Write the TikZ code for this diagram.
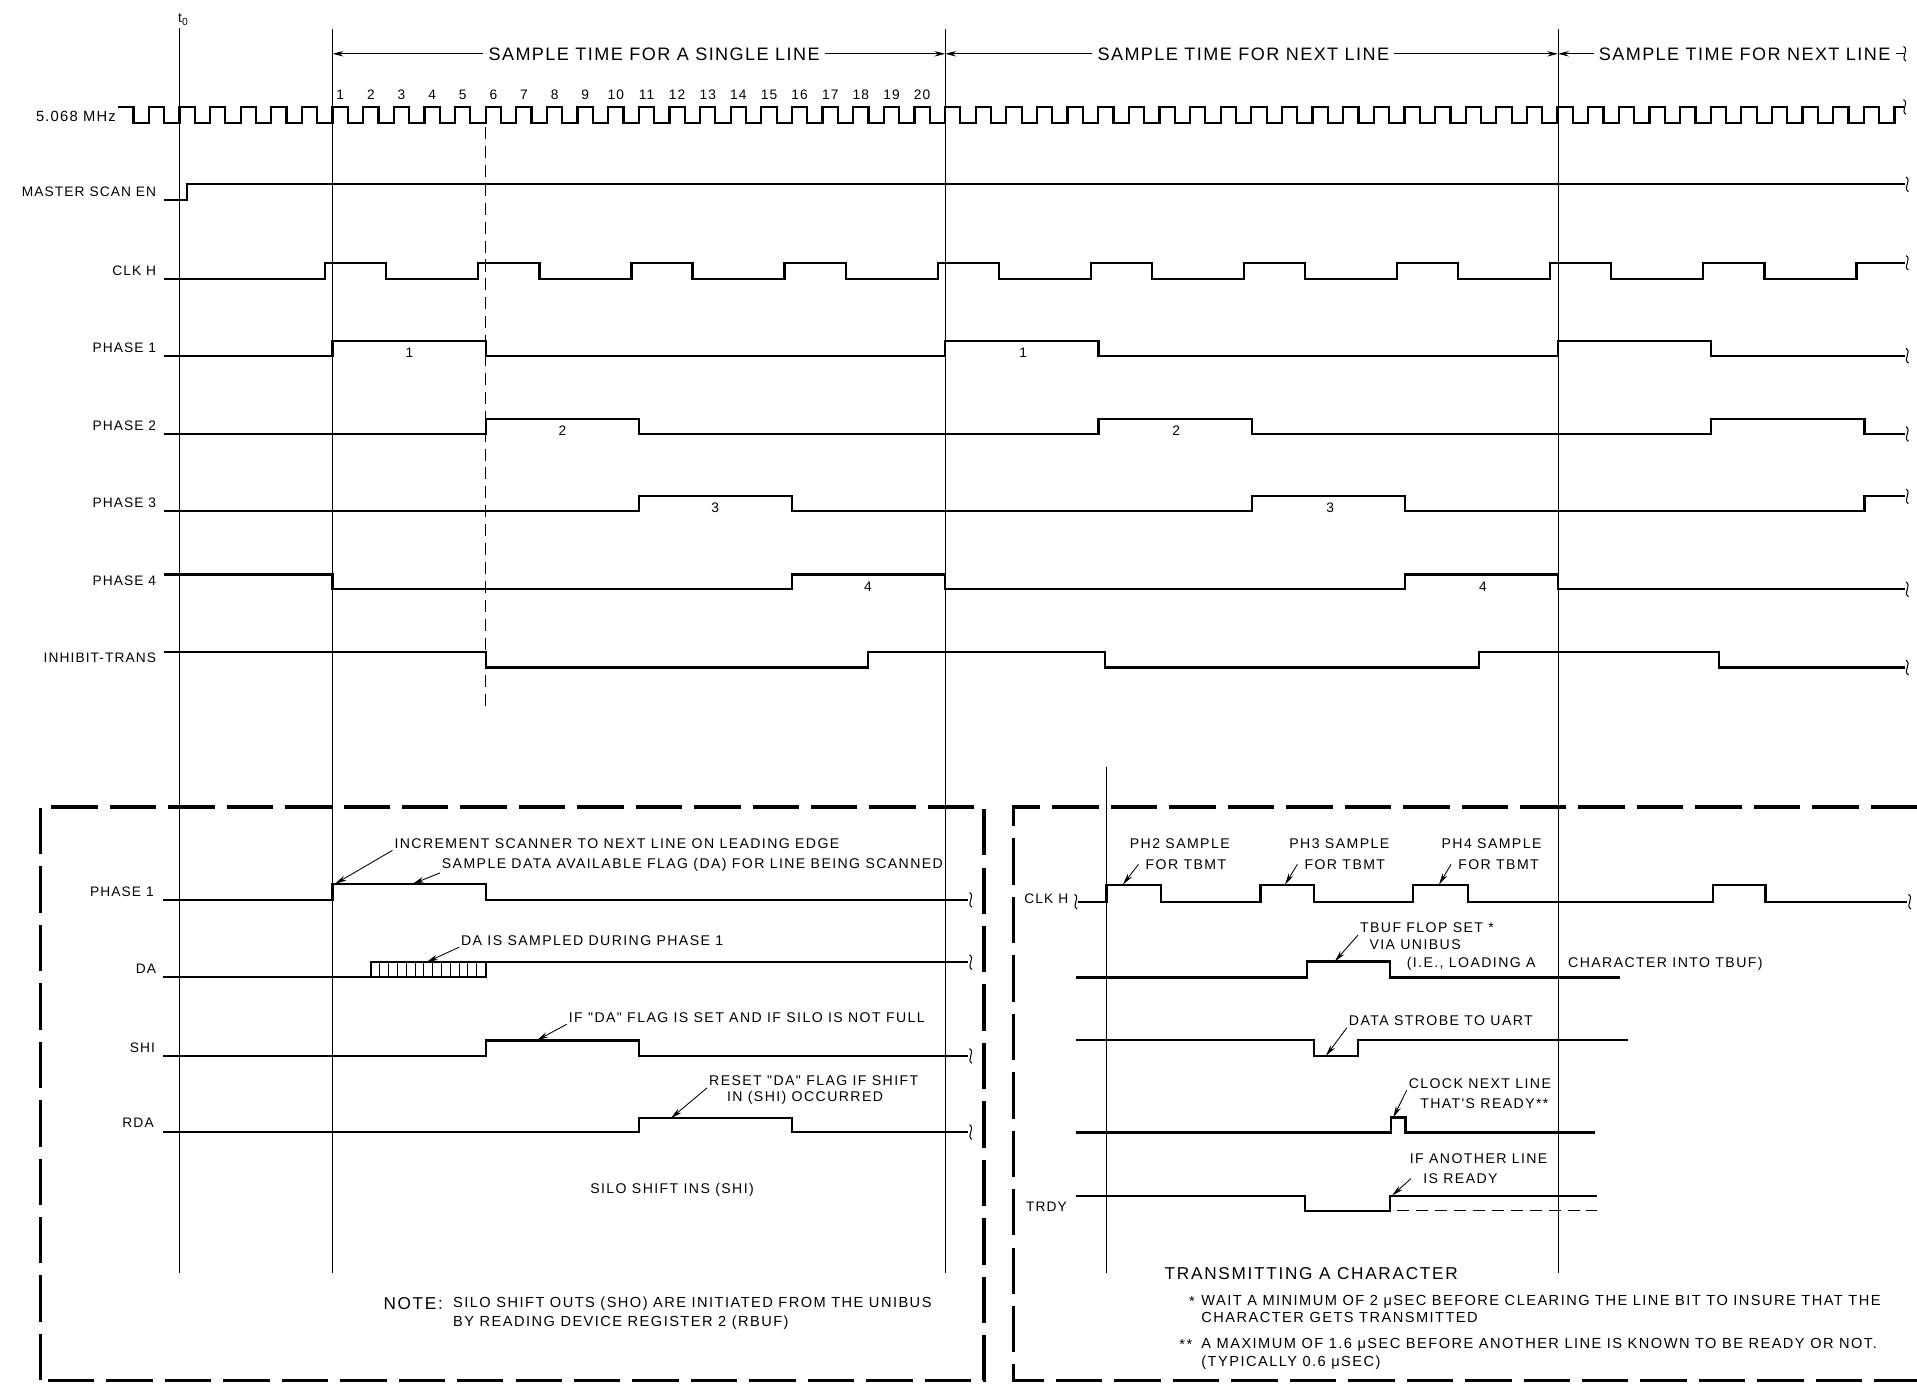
\documentclass[tikz,border=0pt]{standalone}
\usepackage{fontspec}
\setmainfont{Liberation Sans}[LetterSpace=8]
\newfontfamily\wideFont{Liberation Sans}[LetterSpace=10]
\usepackage{tikz}
\usetikzlibrary{arrows.meta}
\tikzstyle{signal}=[line width=1.3pt, line join=miter]
\tikzstyle{refLine}=[line width=0.5pt]
\tikzstyle{boxLine}=[line width=2pt, dash pattern=on 27pt off 7pt]
\tikzstyle{dashLine}=[line width=0.6pt, dash pattern=on 7pt off 4pt]
\tikzstyle{labelText}=[inner sep=0pt, font=\fontsize{8}{9.6}\selectfont]
\tikzstyle{titleText}=[inner sep=3pt, fill=white, font=\fontsize{10.5}{12}\selectfont]
\tikzstyle{noteText}=[inner sep=1pt, anchor=west, font=\wideFont\fontsize{8.2}{9.6}\selectfont]
\tikzstyle{footText}=[inner sep=1pt, anchor=west, font=\wideFont\fontsize{8.5}{10}\selectfont]
\tikzstyle{leader}=[-{Stealth[length=2.4mm,width=1.1mm]}, line width=0.5pt]
\tikzstyle{spanArrow}=[{Stealth[length=2.2mm,width=1.1mm]}-{Stealth[length=2.2mm,width=1.1mm]}, line width=0.5pt]
\tikzset{lineBreak/.pic={\draw[line width=0.6pt] (-1,-6) .. controls (4,-3) and (-4,3) .. (1,6);}}

\begin{document}
\begin{tikzpicture}[x=0.25mm, y=-0.25mm]
    \useasboundingbox (0,0) rectangle (1568,1136);

    % Time references
    \node[labelText, anchor=south] (t0) at (150, 21) {t\textsubscript{0}};
    \draw[refLine] (147, 23) -- (147, 1041);
    \draw[refLine] (272, 24) -- (272, 1041);
    \draw[refLine] (773.2, 24) -- (773.2, 1041);
    \draw[refLine] (1274.4, 24) -- (1274.4, 1041);
    \draw[refLine] (905, 627) -- (905, 1041);
    \draw[dashLine] (397.3, 104) -- (397.3, 578);

    % Sample time spans
    \coordinate (s0) at (272, 44);
    \coordinate (s1) at (773.2, 44);
    \coordinate (s2) at (1274.4, 44);
    \coordinate (s3) at (1557, 44);
    \draw[spanArrow] (s0) -- (s1);
    \draw[spanArrow] (s1) -- (s2);
    \draw[line width=0.5pt, {Stealth[length=2.2mm,width=1.1mm]}-] (s2) -- (s3);
    \pic at (1558, 44) {lineBreak};
    \node[titleText] (span0) at (535, 44) {SAMPLE TIME FOR A SINGLE LINE};
    \node[titleText] (span1) at (1017, 44) {SAMPLE TIME FOR NEXT LINE};
    \node[titleText] (span2) at (1427, 44) {SAMPLE TIME FOR NEXT LINE};

    % Clock count
    \foreach \k in {1,...,20}
        \node[labelText, anchor=base] (n\k) at ({278.3+25.05*(\k-1)}, 81.5) {\k};

    % 5.068 MHz
    \node[labelText, anchor=base east, font=\fontsize{8.6}{10}\selectfont] (clkLbl) at (95, 99) {5.068 MHz};
    \draw[signal] (96.65, 87.5) foreach \k in {1,...,58} { -- ++(12.525,0) -- ++(0,13) -- ++(12.525,0) -- ++(0,-13) } -- ++(8,0);
    \pic at (1558, 87.5) {lineBreak};

    % Master scan enable
    \node[labelText, anchor=base east] (mseLbl) at (128, 161) {MASTER SCAN EN};
    \draw[signal] (134, 163.7) -- (153, 163.7) -- (153, 150.7) -- (1558, 150.7);
    \pic at (1560, 150.7) {lineBreak};

    % CLK H
    \node[labelText, anchor=base east] (clkhLbl) at (128, 225.5) {CLK H};
    \draw[signal] (134, 228) -- (266, 228) foreach \k in {1,...,10} { -- ++(0,-13) -- ++(50,0) -- ++(0,13) -- ++(75.25,0) } -- ++(0,-13) -- (1558, 215);
    \pic at (1560, 215) {lineBreak};

    % Phase 1
    \node[labelText, anchor=base east] (ph1Lbl) at (128, 288) {PHASE 1};
    \draw[signal] (134,291) -- (272,291) -- (272,279) -- (397.3,279) -- (397.3,291) -- (773.2,291) -- (773.2,279) -- (898.5,279) -- (898.5,291) -- (1274.4,291) -- (1274.4,279) -- (1399.7,279) -- (1399.7,291) -- (1558,291);
    \pic at (1560, 291) {lineBreak};
    \node[labelText, anchor=base] (p1a) at (335, 292.5) {1};
    \node[labelText, anchor=base] (p1b) at (837, 292.5) {1};

    % Phase 2
    \node[labelText, anchor=base east] (ph2Lbl) at (128, 352) {PHASE 2};
    \draw[signal] (134,355) -- (397.3,355) -- (397.3,343) -- (522.6,343) -- (522.6,355) -- (898.5,355) -- (898.5,343) -- (1023.8,343) -- (1023.8,355) -- (1399.7,355) -- (1399.7,343) -- (1525,343) -- (1525,355) -- (1558,355);
    \pic at (1560, 355) {lineBreak};
    \node[labelText, anchor=base] (p2a) at (460, 356.5) {2};
    \node[labelText, anchor=base] (p2b) at (962, 356.5) {2};

    % Phase 3
    \node[labelText, anchor=base east] (ph3Lbl) at (128, 415) {PHASE 3};
    \draw[signal] (134,418) -- (522.6,418) -- (522.6,406) -- (647.9,406) -- (647.9,418) -- (1023.8,418) -- (1023.8,406) -- (1149.1,406) -- (1149.1,418) -- (1525,418) -- (1525,406) -- (1558,406);
    \pic at (1560, 406) {lineBreak};
    \node[labelText, anchor=base] (p3a) at (585, 419.5) {3};
    \node[labelText, anchor=base] (p3b) at (1088, 419.5) {3};

    % Phase 4
    \node[labelText, anchor=base east] (ph4Lbl) at (128, 479) {PHASE 4};
    \draw[signal] (134,470) -- (272,470) -- (272,482) -- (647.9,482) -- (647.9,470) -- (773.2,470) -- (773.2,482) -- (1149.1,482) -- (1149.1,470) -- (1274.4,470) -- (1274.4,482) -- (1558,482);
    \pic at (1560, 482) {lineBreak};
    \node[labelText, anchor=base] (p4a) at (710, 483.5) {4};
    \node[labelText, anchor=base] (p4b) at (1213, 483.5) {4};

    % Inhibit transmit
    \node[labelText, anchor=base east] (inhLbl) at (128, 542) {INHIBIT-TRANS};
    \draw[signal] (134,533) -- (397.3,533) -- (397.3,546) -- (710,546) -- (710,533) -- (904,533) -- (904,546) -- (1210,546) -- (1210,533) -- (1406,533) -- (1406,546) -- (1558,546);
    \pic at (1560, 546) {lineBreak};

    % Receive box
    \draw[boxLine] (33,1129) -- (33,660) -- (805,660) -- (805,1129) -- cycle;

    \node[labelText, anchor=base east] (rxPh1Lbl) at (126, 733) {PHASE 1};
    \draw[signal] (133,736) -- (272,736) -- (272,723) -- (397.3,723) -- (397.3,736) -- (792,736);
    \pic at (794, 736) {lineBreak};
    \node[noteText] (incTxt) at (321, 689.8) {INCREMENT SCANNER TO NEXT LINE ON LEADING EDGE};
    \coordinate (incTip) at (274, 723);
    \draw[leader] (incTxt.south west) -- (incTip);
    \node[noteText] (smpTxt) at (359.8, 707) {SAMPLE DATA AVAILABLE FLAG (DA) FOR LINE BEING SCANNED};
    \coordinate (smpTip) at (337.4, 723);
    \draw[leader] (smpTxt.south west) -- (smpTip);

    \node[labelText, anchor=base east] (daLbl) at (128, 796) {DA};
    \draw[signal] (133,799) -- (397.3,799) -- (397.3,787);
    \draw[signal] (303.5,799) -- (303.5,787) -- (792,787);
    \foreach \x in {310.7,317.9,...,391}
        \draw[line width=0.5pt] (\x,787) -- (\x,799);
    \pic at (794, 787) {lineBreak};
    \node[noteText] (daTxt) at (375.5, 769) {DA IS SAMPLED DURING PHASE 1};
    \coordinate (daTip) at (348.9, 787);
    \draw[leader] (daTxt.south west) -- (daTip);

    \node[labelText, anchor=base east] (shiLbl) at (127, 861) {SHI};
    \draw[signal] (133,863.7) -- (397.3,863.7) -- (397.3,851) -- (522.6,851) -- (522.6,863.7) -- (792,863.7);
    \pic at (794, 863.7) {lineBreak};
    \node[noteText] (shiTxt) at (463.6, 832) {IF "DA" FLAG IS SET AND IF SILO IS NOT FULL};
    \coordinate (shiTip) at (439, 851);
    \draw[leader] (shiTxt.south west) -- (shiTip);

    \node[labelText, anchor=base east] (rdaLbl) at (126, 922.5) {RDA};
    \draw[signal] (133,926) -- (522.6,926) -- (522.6,914.7) -- (647.9,914.7) -- (647.9,926) -- (792,926);
    \pic at (794, 926) {lineBreak};
    \node[noteText] (rdaTxt) at (578.4, 884) {RESET "DA" FLAG IF SHIFT};
    \node[noteText] (rdaTxt2) at (593, 898) {IN (SHI) OCCURRED};
    \coordinate (rdaTip) at (548.7, 914.7);
    \draw[leader] (rdaTxt.south west) -- (rdaTip);

    \node[noteText, anchor=center] (siloIn) at (549.7, 973) {SILO SHIFT INS (SHI)};
    \node[footText, font=\wideFont\fontsize{10}{12}\selectfont] (noteHd) at (312, 1066) {NOTE:};
    \node[footText] (note1) at (369, 1066) {SILO SHIFT OUTS (SHO) ARE INITIATED FROM THE UNIBUS};
    \node[footText] (note2) at (369, 1082) {BY READING DEVICE REGISTER 2 (RBUF)};

    % Transmit box
    \draw[boxLine] (1568,660) -- (829,660) -- (829,1129) -- (1568,1129);

    \node[labelText, anchor=base east] (txClkLbl) at (874, 739) {CLK H};
    \pic at (880, 737.5) {lineBreak};
    \draw[signal] (882,737.5) -- (905,737.5) -- (905,723.6) -- (949.5,723.6) -- (949.5,737.5) -- (1031,737.5) -- (1031,723.6) -- (1075,723.6) -- (1075,737.5) -- (1156,737.5) -- (1156,723.6) -- (1201,723.6) -- (1201,737.5) -- (1401,737.5) -- (1401,723.6) -- (1444,723.6) -- (1444,737.5) -- (1560,737.5);
    \pic at (1562, 737.5) {lineBreak};
    \node[noteText, anchor=center] (ph2a) at (965, 689.8) {PH2 SAMPLE};
    \node[noteText, anchor=center] (ph2b) at (970, 707) {FOR TBMT};
    \coordinate (ph2Tip) at (918.4, 723.6);
    \draw[leader] ([xshift=-3pt]ph2b.west) -- (ph2Tip);
    \node[noteText, anchor=center] (ph3a) at (1095.5, 689.8) {PH3 SAMPLE};
    \node[noteText, anchor=center] (ph3b) at (1100, 707) {FOR TBMT};
    \coordinate (ph3Tip) at (1051, 723.6);
    \draw[leader] ([xshift=-3pt]ph3b.west) -- (ph3Tip);
    \node[noteText, anchor=center] (ph4a) at (1220, 689.8) {PH4 SAMPLE};
    \node[noteText, anchor=center] (ph4b) at (1225.7, 707) {FOR TBMT};
    \coordinate (ph4Tip) at (1177, 723.6);
    \draw[leader] ([xshift=-3pt]ph4b.west) -- (ph4Tip);

    % TBUF flop
    \draw[signal] (880,799.6) -- (1069,799.6) -- (1069,786.5) -- (1137,786.5) -- (1137,799.6) -- (1325,799.6);
    \node[noteText] (tbufA) at (1110.8, 759) {TBUF FLOP SET *};
    \node[noteText] (tbufB) at (1118.5, 773) {VIA UNIBUS};
    \node[noteText] (tbufC) at (1149, 788.5) {(I.E., LOADING A};
    \node[noteText] (tbufD) at (1281, 788.5) {CHARACTER INTO TBUF)};
    \coordinate (tbufTip) at (1091.7, 786.5);
    \draw[leader] (tbufA.south west) -- (tbufTip);

    % Data strobe
    \draw[signal] (880,850.6) -- (1075,850.6) -- (1075,863.7) -- (1111,863.7) -- (1111,850.6) -- (1331.5,850.6);
    \node[noteText] (dsTxt) at (1101.7, 834.8) {DATA STROBE TO UART};
    \coordinate (dsTip) at (1084.5, 863.7);
    \draw[leader] (dsTxt.south west) -- (dsTip);

    % Clock next line
    \draw[signal] (880,926.4) -- (1137.6,926.4) -- (1137.6,914.1) -- (1149.6,914.1) -- (1149.6,926.4) -- (1305,926.4);
    \node[noteText] (cnA) at (1150.6, 886) {CLOCK NEXT LINE};
    \node[noteText] (cnB) at (1160, 902.4) {THAT'S READY**};
    \coordinate (cnTip) at (1139.6, 914.1);
    \draw[leader] (cnA.south west) -- (cnTip);

    % TRDY
    \node[labelText, anchor=base west] (trdyLbl) at (839, 991) {TRDY};
    \draw[signal] (880,978) -- (1067.6,978) -- (1067.6,990.5) -- (1137,990.5) -- (1137,978) -- (1306,978);
    \draw[dashLine] (1143,990.5) -- (1306,990.5);
    \node[noteText] (rdyA) at (1151.5, 947.5) {IF ANOTHER LINE};
    \node[noteText] (rdyB) at (1162.5, 964) {IS READY};
    \coordinate (rdyTip) at (1138.6, 978);
    \draw[leader] ([xshift=-6pt]rdyB.west) -- (rdyTip);

    % Footnotes
    \node[footText, font=\wideFont\fontsize{10}{12}\selectfont] (txTitle) at (951, 1042) {TRANSMITTING A CHARACTER};
    \node[footText] (star1) at (971, 1064.7) {*};
    \node[footText] (fn1a) at (981, 1064.7) {WAIT A MINIMUM OF 2 μSEC BEFORE CLEARING THE LINE BIT TO INSURE THAT THE};
    \node[footText] (fn1b) at (981, 1078) {CHARACTER GETS TRANSMITTED};
    \node[footText] (star2) at (963, 1100) {**};
    \node[footText] (fn2a) at (981, 1100) {A MAXIMUM OF 1.6 μSEC BEFORE ANOTHER LINE IS KNOWN TO BE READY OR NOT.};
    \node[footText] (fn2b) at (981, 1115) {(TYPICALLY 0.6 μSEC)};

\end{tikzpicture}
\end{document}
